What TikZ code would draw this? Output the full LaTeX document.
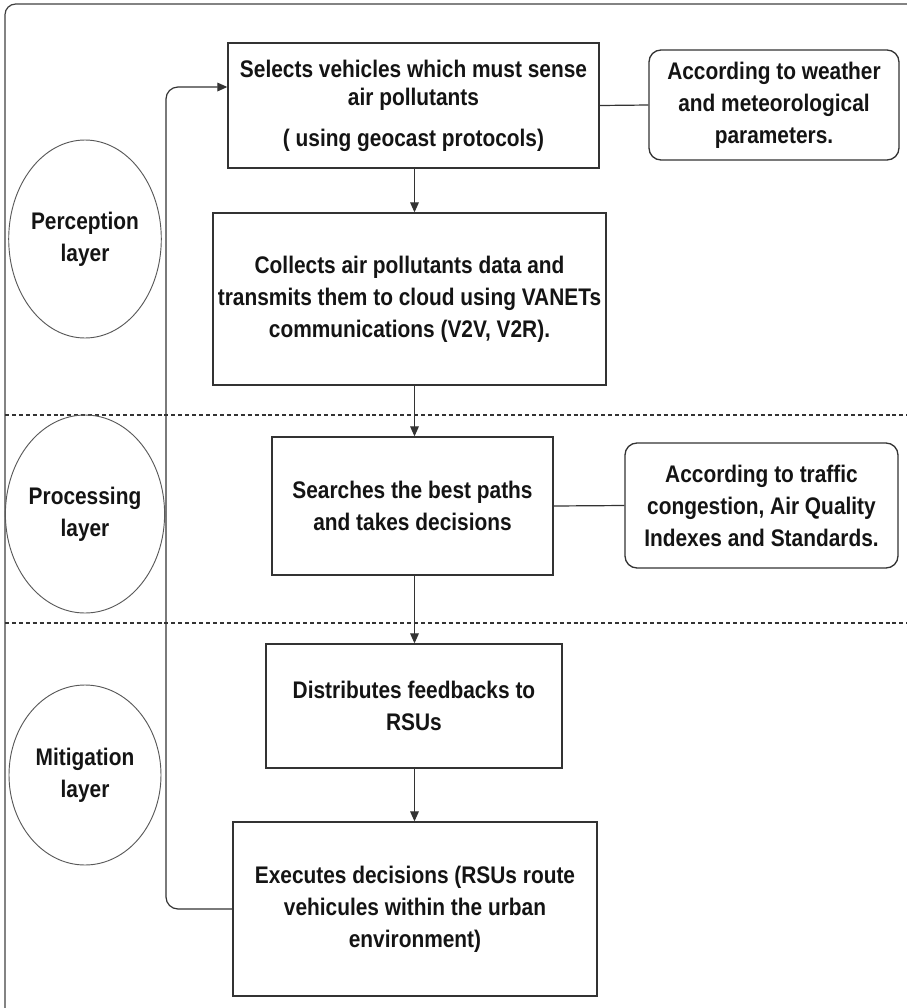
\documentclass[tikz,border=0pt]{standalone}
\usepackage{fontspec}
\setmainfont{Liberation Sans}[FakeStretch=0.87]
\usetikzlibrary{arrows.meta,shapes.geometric}

\begin{document}
\begin{tikzpicture}[x=0.75pt,y=-0.75pt,
  every node/.style={font=\fontsize{18}{24}\selectfont\bfseries, text=black!92, align=center, inner sep=0pt},
  stepbox/.style={draw=black!80, line width=1pt, rectangle},
  notebox/.style={draw=black!80, line width=1pt, rectangle, rounded corners=9pt},
  layer/.style={draw=black!65, line width=0.7pt, ellipse, minimum width=114pt, minimum height=148.5pt},
  flow/.style={draw=black!80, line width=0.9pt, -{Triangle[length=7.5pt,width=6.5pt]}},
  link/.style={draw=black!80, line width=0.9pt},
  sep/.style={draw=black!80, line width=0.9pt, dash pattern=on 3pt off 2.2pt}
]
\useasboundingbox (0,0) rectangle (907,1008);
\clip (0,0) rectangle (907,1008);

% outer frame
\draw[black!75, line width=0.9pt, rounded corners=8pt] (5,4) rectangle (940,1020);

% layer separators
\draw[sep] (5,415) -- (907,415);
\draw[sep] (5,623) -- (907,623);

% layer labels
\node[layer] (perc) at (85,239) {Perception\\layer};
\node[layer] (proc) at (85,514) {Processing\\layer};
\node[layer, minimum height=135pt] (miti) at (85,775) {Mitigation\\layer};

% process steps
\node[stepbox, minimum width=278.25pt, minimum height=93.75pt] (b1) at (413.5,105.5)
  {Selects vehicles which must sense\\[-3pt]air pollutants\\[6.75pt]( using geocast protocols)};
\node[stepbox, minimum width=294.75pt, minimum height=129pt] (b2) at (409.5,299)
  {Collects air pollutants data and\\transmits them to cloud using VANETs\\communications (V2V, V2R).};
\node[stepbox, minimum width=210.75pt, minimum height=103.5pt] (b3) at (412.5,506)
  {Searches the best paths\\and takes decisions};
\node[stepbox, minimum width=222pt, minimum height=93pt] (b4) at (414,706)
  {Distributes feedbacks to\\RSUs};
\node[stepbox, minimum width=273pt, minimum height=130.5pt] (b5) at (415,909)
  {Executes decisions (RSUs route\\vehicules within the urban\\environment)};

% side notes
\node[notebox, minimum width=187.5pt, minimum height=82.5pt] (r1) at (774,105)
  {According to weather\\and meteorological\\parameters.};
\node[notebox, minimum width=204.75pt, minimum height=93.75pt] (r2) at (761.5,505.5)
  {According to traffic\\congestion, Air Quality\\Indexes and Standards.};

% main flow, all on one vertical line
\coordinate (spine) at (414.5,0);
\draw[flow] (b1.south -| spine) -- (b2.north -| spine);
\draw[flow] (b2.south -| spine) -- (b3.north -| spine);
\draw[flow] (b3.south -| spine) -- (b4.north -| spine);
\draw[flow] (b4.south -| spine) -- (b5.north -| spine);

% note links
\draw[link] (b1.east) -- (r1.west);
\draw[link] (b3.east) -- (r2.west);

% feedback loop
\coordinate (loopTop) at (166,87);
\draw[flow, rounded corners=9pt] (b5.west) -- (b5.west -| loopTop) -- (loopTop) -- (loopTop -| b1.west);
\end{tikzpicture}
\end{document}
